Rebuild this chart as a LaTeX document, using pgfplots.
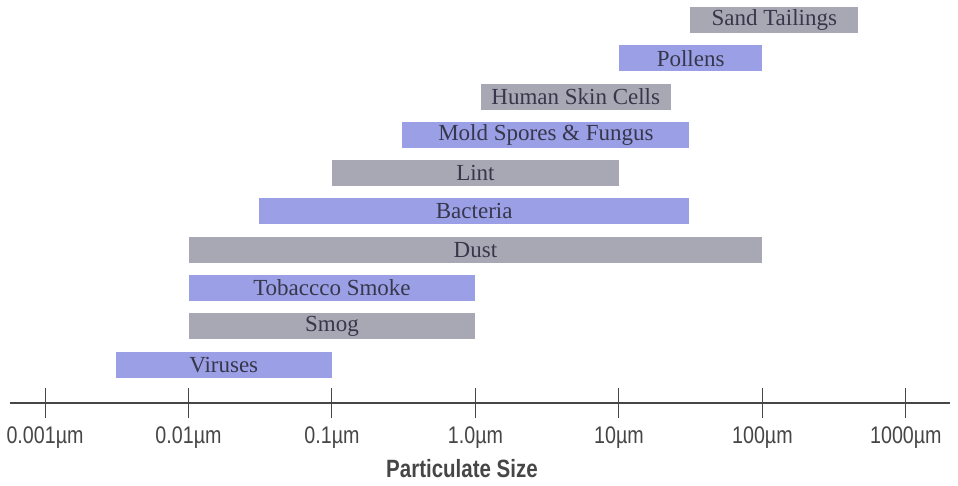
\documentclass[border=0pt]{standalone}
\usepackage{pgfplots}
\pgfplotsset{compat=1.18}
\usepackage{fontspec}
\setmainfont{Liberation Serif}
\newfontfamily\cond[FakeStretch=0.82]{Liberation Sans}
\definecolor{barblue}{RGB}{155,160,230}
\definecolor{bargray}{RGB}{168,168,180}
\definecolor{txt}{RGB}{55,55,75}
\definecolor{axc}{RGB}{70,70,70}
\newcommand{\um}{\textmu m}
\begin{document}
\begin{tikzpicture}[x=1pt,y=1pt]
\useasboundingbox (-10,-82) rectangle (948,403);
\begin{axis}[
  at={(0,0)}, anchor=south west,
  scale only axis, width=940pt, height=403pt,
  xmode=log, xmin=5.7e-4, xmax=2030,
  ymin=0, ymax=10.52,
  axis x line*=bottom, axis y line=none,
  x axis line style={draw=axc, line width=1.1pt},
  xtick={0.001,0.01,0.1,1,10,100,1000},
  xticklabels={0.001\um,0.01\um,0.1\um,1.0\um,10\um,100\um,1000\um},
  xminorticks=false,
  xtick align=center, major tick length=30pt,
  xtick style={draw=axc, line width=1pt},
  xticklabel style={font=\cond\fontsize{24}{27}\selectfont, text=axc, anchor=base, yshift=-25pt},
  typeset ticklabels with strut=false,
  clip=false,
]
% bars: lo, hi, y
\addplot[fill=barblue, draw=none] coordinates {(0.0031,0.66)(0.1,0.66)(0.1,1.34)(0.0031,1.34)} -- cycle;
\addplot[fill=bargray, draw=none] coordinates {(0.01,1.66)(1,1.66)(1,2.34)(0.01,2.34)} -- cycle;
\addplot[fill=barblue, draw=none] coordinates {(0.01,2.66)(1,2.66)(1,3.34)(0.01,3.34)} -- cycle;
\addplot[fill=bargray, draw=none] coordinates {(0.01,3.66)(100,3.66)(100,4.34)(0.01,4.34)} -- cycle;
\addplot[fill=barblue, draw=none] coordinates {(0.031,4.66)(31,4.66)(31,5.34)(0.031,5.34)} -- cycle;
\addplot[fill=bargray, draw=none] coordinates {(0.1,5.66)(10,5.66)(10,6.34)(0.1,6.34)} -- cycle;
\addplot[fill=barblue, draw=none] coordinates {(0.31,6.66)(31,6.66)(31,7.34)(0.31,7.34)} -- cycle;
\addplot[fill=bargray, draw=none] coordinates {(1.1,7.66)(23,7.66)(23,8.34)(1.1,8.34)} -- cycle;
\addplot[fill=barblue, draw=none] coordinates {(10,8.66)(100,8.66)(100,9.34)(10,9.34)} -- cycle;
\addplot[fill=bargray, draw=none] coordinates {(31.5,9.66)(466,9.66)(466,10.34)(31.5,10.34)} -- cycle;
\tikzset{bl/.style={text=txt, font=\fontsize{23}{26}\selectfont, inner sep=0pt}}
\node[bl] at (axis cs:0.0176,1) {Viruses};
\node[bl] at (axis cs:0.1,2) {Smog};
\node[bl] at (axis cs:0.1,3) {Tobaccco Smoke};
\node[bl] at (axis cs:1,4) {Dust};
\node[bl] at (axis cs:0.98,5) {Bacteria};
\node[bl] at (axis cs:1,6) {Lint};
\node[bl] at (axis cs:3.1,7) {Mold Spores \& Fungus};
\node[bl] at (axis cs:5.0,8) {Human Skin Cells};
\node[bl] at (axis cs:31.6,9) {Pollens};
\node[bl] at (axis cs:121,10) {Sand Tailings};
\end{axis}
\node[font=\cond\bfseries\fontsize{25}{28}\selectfont, text=axc, anchor=base] at (452,-74) {Particulate Size};
\end{tikzpicture}
\end{document}
